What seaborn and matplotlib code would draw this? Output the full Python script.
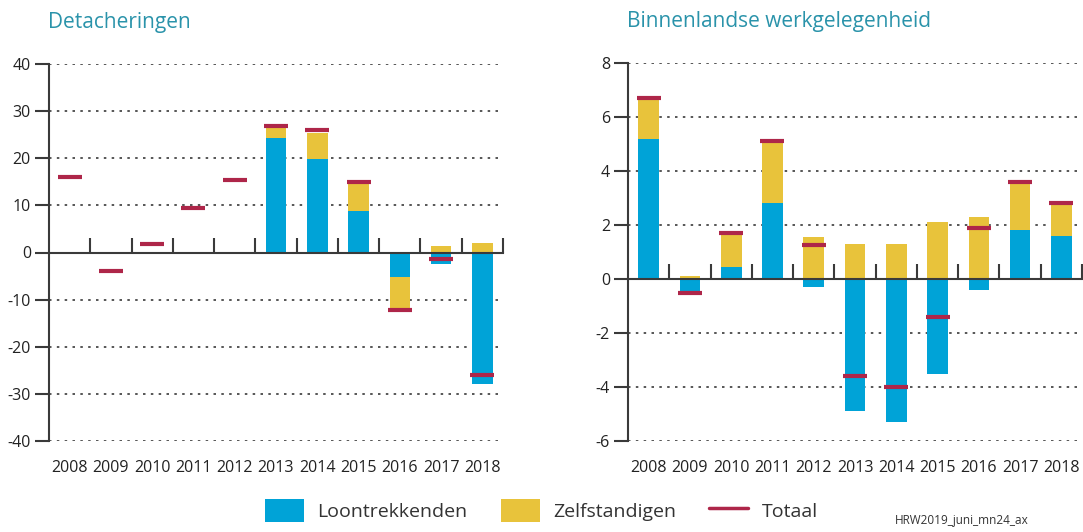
import numpy as np
import pandas as pd
import matplotlib
matplotlib.use("Agg")
import matplotlib.pyplot as plt
import seaborn as sns

years = ["2008", "2009", "2010", "2011", "2012", "2013", "2014", "2015", "2016", "2017", "2018"]

# Detacheringen
det_loon = [0, 0, 0, 0, 0, 24.3, 19.8, 8.9, -5.3, -2.5, -28.0]
det_zelf = [0, 0, 0, 0, 0, 2.9, 5.5, 5.8, -7.0, 1.3, 2.0]
det_totaal = [16.0, -3.9, 1.7, 9.4, 15.4, 26.8, 26.0, 14.9, -12.1, -1.3, -25.9]

# Binnenlandse werkgelegenheid
bin_loon = [5.2, -0.6, 0.45, 2.8, -0.3, -4.9, -5.3, -3.5, -0.4, 1.8, 1.6]
bin_zelf = [1.5, 0.1, 1.2, 2.3, 1.55, 1.3, 1.3, 2.1, 2.3, 1.8, 1.2]
bin_totaal = [6.7, -0.5, 1.7, 5.1, 1.25, -3.6, -4.0, -1.4, 1.9, 3.6, 2.8]

titles = ["Detacheringen", "Binnenlandse werkgelegenheid"]
legend_labels = ["Loontrekkenden", "Zelfstandigen", "Totaal"]
footnote = "HRW2019_juni_mn24_ax"

BLUE = "#00A3D7"
YELLOW = "#E8C33B"
RED = "#AE2649"
TEAL = "#2A93AA"
DARK = "#3a3a3a"

sns.set_theme(style="white")
plt.rcParams["font.family"] = ["Open Sans", "DejaVu Sans"]

fig = plt.figure(figsize=(10.83, 5.32), dpi=100)
ax1 = fig.add_axes([49 / 1083, 91 / 532, 454 / 1083, 377 / 532])
ax2 = fig.add_axes([628 / 1083, 91 / 532, 454 / 1083, 378 / 532])


def draw(ax, loon, zelf, totaal, ylim, yticks, title):
    loon = np.array(loon, dtype=float)
    zelf = np.array(zelf, dtype=float)
    df = pd.DataFrame({
        "year": years,
        "pos_all": np.clip(loon, 0, None) + np.clip(zelf, 0, None),
        "neg_all": np.clip(loon, None, 0) + np.clip(zelf, None, 0),
        "pos_loon": np.clip(loon, 0, None),
        "neg_loon": np.clip(loon, None, 0),
        "totaal": totaal,
    })
    for col, colr in [("pos_all", YELLOW), ("neg_all", YELLOW),
                      ("pos_loon", BLUE), ("neg_loon", BLUE)]:
        sns.barplot(data=df, x="year", y=col, order=years, color=colr,
                    saturation=1, width=0.5, linewidth=0, ax=ax, zorder=3)
    sns.pointplot(data=df, x="year", y="totaal", order=years, color=RED,
                  linestyle="none", marker="_", markersize=17,
                  markeredgewidth=3, ax=ax, zorder=5)

    ax.set_ylim(*ylim)
    ax.set_xlim(-0.5, len(years) - 0.5)
    ax.set_yticks(yticks)
    ax.set_yticklabels([str(t) for t in yticks])
    ax.set_xlabel("")
    ax.set_ylabel("")

    # grid
    for t in yticks:
        if t != 0:
            ax.axhline(t, color=DARK, lw=1.2, ls=(0, (1.5, 3.2)), zorder=1)

    for s in ["top", "right"]:
        ax.spines[s].set_visible(False)
    ax.spines["left"].set_color(DARK)
    ax.spines["left"].set_linewidth(1.5)
    ax.spines["bottom"].set_position(("data", 0))
    ax.spines["bottom"].set_color(DARK)
    ax.spines["bottom"].set_linewidth(1.5)
    ax.spines["bottom"].set_zorder(4)

    ax.tick_params(axis="y", which="major", direction="out", length=10,
                   width=1.5, color=DARK, labelsize=11.5, labelcolor="#222222", pad=3,
                   left=True)
    ax.set_xticks(range(len(years)))
    ax.set_xticks(np.arange(0.5, len(years), 1.0), minor=True)
    ax.tick_params(axis="x", which="major", length=0, labelbottom=False, bottom=False)
    ax.tick_params(axis="x", which="minor", direction="in", length=11,
                   width=1.5, color=DARK, bottom=True)

    sec = ax.secondary_xaxis("bottom")
    sec.set_xticks(range(len(years)))
    sec.set_xticklabels(years)
    sec.tick_params(length=0, labelsize=11.5, labelcolor="#222222", pad=14)
    sec.spines["bottom"].set_visible(False)

    ax.set_title(title, loc="left", color=TEAL, fontsize=15, fontweight="normal",
                 pad=26, x=-0.002)
    if ax.get_legend() is not None:
        ax.get_legend().remove()


draw(ax1, det_loon, det_zelf, det_totaal, (-40, 40), list(range(-40, 41, 10)), titles[0])
draw(ax2, bin_loon, bin_zelf, bin_totaal, (-6, 8), list(range(-6, 9, 2)), titles[1])

from matplotlib.patches import Patch
from matplotlib.lines import Line2D
handles = [Patch(facecolor=BLUE, edgecolor="none"),
           Patch(facecolor=YELLOW, edgecolor="none"),
           Line2D([], [], color=RED, lw=2.5)]
fig.legend(handles, legend_labels, loc="center", bbox_to_anchor=(0.5, 0.04),
           ncol=3, frameon=False, fontsize=14, handlelength=2.0, handleheight=1.4,
           columnspacing=1.7, handletextpad=0.7, labelcolor="#333333")
fig.text(0.826, 0.015, footnote, fontsize=8.5, color="#333333")

fig.savefig("out.png", dpi=100)
